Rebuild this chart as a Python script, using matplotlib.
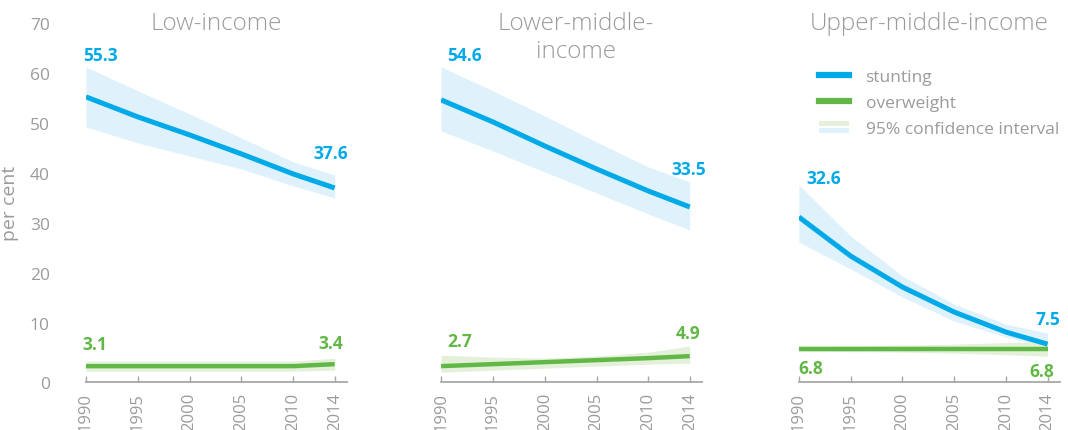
import numpy as np
import matplotlib
matplotlib.use("Agg")
import matplotlib.pyplot as plt
from matplotlib.lines import Line2D
from matplotlib.patches import Rectangle
from matplotlib.legend_handler import HandlerBase

plt.rcParams["font.family"] = ["Open Sans", "DejaVu Sans"]

BLUE = "#00a9e8"
GREEN = "#62b846"
BLUE_CI = "#dff2fb"
GREEN_CI = "#e4f0da"
GREY = "#9b9b9b"

years = [1990, 1995, 2000, 2005, 2010, 2014]
titles = ["Low-income", "Lower-middle-\nincome", "Upper-middle-income"]
ytick_vals = [0, 10, 20, 30, 40, 50, 60, 70]

# stunting (estimate, lower, upper) per group
stunt = [
    [55.2, 51.2, 47.6, 43.8, 39.8, 37.0],
    [54.6, 50.2, 45.4, 40.8, 36.4, 33.2],
    [31.2, 23.4, 17.2, 12.2, 8.2, 5.8],
]
stunt_lo = [
    [49.2, 46.0, 43.4, 40.8, 37.4, 35.0],
    [48.4, 44.4, 40.2, 36.0, 31.8, 28.6],
    [26.2, 20.8, 15.2, 10.4, 7.2, 5.4],
]
stunt_hi = [
    [61.2, 56.4, 51.8, 47.0, 42.2, 39.6],
    [61.2, 56.4, 51.4, 46.2, 41.2, 38.2],
    [37.6, 27.4, 19.4, 13.8, 9.8, 8.0],
]
# overweight
over = [
    [1.4, 1.4, 1.4, 1.4, 1.4, 1.8],
    [1.4, 1.8, 2.2, 2.6, 3.0, 3.4],
    [4.8, 4.8, 4.8, 4.8, 4.8, 4.8],
]
over_lo = [
    [0.4, 0.4, 0.4, 0.4, 0.4, 0.6],
    [0.2, 0.6, 1.0, 1.4, 1.8, 2.0],
    [4.4, 4.3, 4.2, 4.0, 3.7, 3.4],
]
over_hi = [
    [2.4, 2.4, 2.4, 2.4, 2.4, 3.0],
    [3.6, 3.2, 3.0, 3.4, 4.2, 5.4],
    [5.4, 5.5, 5.6, 5.8, 6.1, 6.4],
]

# value labels: (text, x, y, ha, colour)
labels = [
    [("55.3", 1989.7, 63.6, "left", BLUE), ("37.6", 2015.3, 44.0, "right", BLUE),
     ("3.1", 1989.7, 5.9, "left", GREEN), ("3.4", 2014.8, 6.1, "right", GREEN)],
    [("54.6", 1990.6, 63.6, "left", BLUE), ("33.5", 2015.6, 40.8, "right", BLUE),
     ("2.7", 1990.6, 6.5, "left", GREEN), ("4.9", 2015.0, 8.1, "right", GREEN)],
    [("32.6", 1990.7, 39.0, "left", BLUE), ("7.5", 2015.2, 10.9, "right", BLUE),
     ("6.8", 1990.0, 1.1, "left", GREEN), ("6.8", 2014.6, 0.5, "right", GREEN)],
]

YMIN = -1.8


class CIHandler(HandlerBase):
    def create_artists(self, legend, orig, xd, yd, w, h, fs, trans):
        g = Rectangle((xd, yd + h * 0.55), w, h * 0.45, fc=GREEN_CI, ec="none", transform=trans)
        b = Rectangle((xd, yd - h * 0.05), w, h * 0.45, fc=BLUE_CI, ec="none", transform=trans)
        return [g, b]


fig = plt.figure(figsize=(10.68, 4.31), dpi=100)
lefts = [0.0805, 0.413, 0.748]
width = 0.2445
axes = []
for i in range(3):
    ax = fig.add_axes([lefts[i], 0.111, width, 0.857])
    axes.append(ax)
    ax.fill_between(years, stunt_lo[i], stunt_hi[i], color=BLUE_CI, lw=0)
    ax.fill_between(years, over_lo[i], over_hi[i], color=GREEN_CI, lw=0)
    ax.plot(years, stunt[i], color=BLUE, lw=3.6, solid_capstyle="butt")
    ax.plot(years, over[i], color=GREEN, lw=3.2, solid_capstyle="butt")
    for txt, x, y, ha, c in labels[i]:
        ax.text(x, y, txt, ha=ha, va="center", color=c, fontsize=12.5, fontweight="bold")
    ax.set_xlim(1990, 2015.2)
    ax.set_ylim(YMIN, 72)
    for s in ["top", "right", "left"]:
        ax.spines[s].set_visible(False)
    ax.spines["bottom"].set_color("#a8a8a8")
    ax.spines["bottom"].set_linewidth(1.3)
    ax.set_xticks(years)
    ax.set_xticklabels([str(y) for y in years], rotation=90, color=GREY, fontsize=12)
    ax.tick_params(axis="x", direction="in", length=4, color="#a8a8a8", width=1, pad=7)
    # the "0" label sits on the baseline in the original
    ax.set_yticks([YMIN if v == 0 else v for v in ytick_vals])
    ax.set_yticklabels([str(v) for v in ytick_vals])
    ax.tick_params(axis="y", length=0, pad=26, labelsize=12.5, labelcolor=GREY)
    if i > 0:
        ax.tick_params(axis="y", labelleft=False)
    ax.patch.set_alpha(0)
    # panel title, top of text near the figure top
    x_mid = lefts[i] + width / 2
    fig.text(x_mid + (0.004 if i == 1 else 0), 1 - 12 / 431, titles[i], ha="center", va="top",
             fontsize=17.5, color=GREY, fontweight="light", linespacing=1.2)

axes[0].set_ylabel("per cent", color=GREY, fontsize=14)
axes[0].yaxis.set_label_coords(-0.257, 0.488)

handles = [Line2D([], [], color=BLUE, lw=4.5), Line2D([], [], color=GREEN, lw=4.5), "ci"]
axes[2].legend(handles, ["stunting", "overweight", "95% confidence interval"],
               handler_map={str: CIHandler()}, loc="upper left",
               bbox_to_anchor=(0.076, 0.848), frameon=False, fontsize=12.5,
               labelcolor=GREY, handlelength=1.75, handletextpad=0.95,
               labelspacing=0.56, borderaxespad=0, borderpad=0)

fig.savefig("out.png", dpi=100)
